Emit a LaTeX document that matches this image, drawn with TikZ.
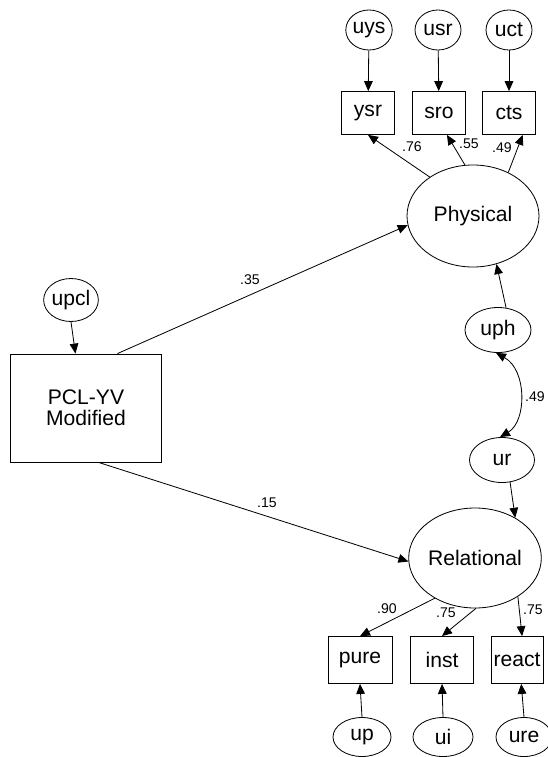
\documentclass[tikz,border=0pt]{standalone}
\usepackage{fontspec}
\setmainfont{Liberation Sans}
\usepackage{tikz}
\usetikzlibrary{shapes.geometric}
\usetikzlibrary{arrows.meta}

\begin{document}
\begin{tikzpicture}[x=0.03cm, y=-0.03cm,
  every node/.style={font=\fontsize{18}{18}\selectfont},
  lat/.style={draw, ellipse, inner sep=0pt, line width=0.7pt},
  err/.style={draw, ellipse, inner sep=0pt, line width=0.7pt},
  obs/.style={draw, rectangle, inner sep=0pt, line width=0.7pt},
  coef/.style={font=\fontsize{12}{12}\selectfont},
  path/.style={line width=0.7pt, -{Triangle[length=0.3cm, width=0.26cm]}}]
\useasboundingbox (0,0) rectangle (547,757);

% error terms, top
\node [err, minimum width=1.38cm, minimum height=1.2cm] (uys) at (369,30) {uys};
\node [err, minimum width=1.38cm, minimum height=1.2cm] (usr) at (438,30) {usr};
\node [err, minimum width=1.38cm, minimum height=1.2cm] (uct) at (509,30) {uct};

% indicators, physical
\node [obs, minimum width=1.59cm, minimum height=1.29cm] (ysr) at (368,113) {ysr};
\node [obs, minimum width=1.59cm, minimum height=1.29cm] (sro) at (439,113) {sro};
\node [obs, minimum width=1.59cm, minimum height=1.29cm] (cts) at (509,113) {cts};

% latent variables
\node [lat, minimum width=3.96cm, minimum height=3.06cm] (phys) at (473,216) {Physical};
\node [lat, minimum width=3.84cm, minimum height=3.0cm] (rel) at (475,558) {Relational};

% predictor
\node [err, minimum width=1.62cm, minimum height=1.29cm] (upcl) at (71,300) {upcl};
\node [obs, minimum width=4.53cm, minimum height=3.24cm, align=center] (pcl) at (86,408) {PCL-YV\\Modified};

% disturbances
\node [err, minimum width=1.98cm, minimum height=1.35cm] (uph) at (498,330) {uph};
\node [err, minimum width=1.95cm, minimum height=1.35cm] (ur) at (502,460) {ur};

% indicators, relational
\node [obs, minimum width=1.92cm, minimum height=1.41cm] (pure) at (360,660) {pure};
\node [obs, minimum width=1.89cm, minimum height=1.41cm] (inst) at (442,660) {inst};
\node [obs, minimum width=1.56cm, minimum height=1.41cm] (react) at (517,660) {react};

% error terms, bottom
\node [err, minimum width=1.74cm, minimum height=1.17cm] (up) at (362,737) {up};
\node [err, minimum width=1.8cm, minimum height=1.17cm] (ui) at (443,737) {ui};
\node [err, minimum width=1.68cm, minimum height=1.17cm] (ure) at (524,737) {ure};

% paths
\draw [path] (uys) -- (ysr);
\draw [path] (usr) -- (sro);
\draw [path] (uct) -- (cts);
\draw [path] (phys.138) -- (ysr.south);
\draw [path] (phys.99) -- (sro.-70);
\draw [path] (phys.51) -- (cts.-58);
\draw [path] (upcl.south) -- (pcl.101);
\draw [path] (pcl.60) -- (phys.188);
\draw [path] (pcl.-77.5) -- (rel.183);
\draw [path] (uph.70) -- (phys.-64);
\draw [path] (ur.-70) -- (rel.45);
\draw [line width=0.7pt, {Triangle[length=0.3cm, width=0.26cm]}-{Triangle[length=0.3cm, width=0.26cm]}]
  (uph.-95) .. controls (527,370) and (527,421) .. (ur.95);
\draw [path] (rel.225) -- (pure.north);
\draw [path] (rel.-89) -- (inst.north);
\draw [path] (rel.-42) -- (react.78);
\draw [path] (up.north) -- (pure.south);
\draw [path] (ui.north) -- (inst.south);
\draw [path] (ure.north) -- (react.-80);

% coefficients
\node [coef] (c76) at (412,147) {.76};
\node [coef] (c55) at (469,144) {.55};
\node [coef] (c49) at (502,148) {.49};
\node [coef] (c35) at (250,280) {.35};
\node [coef] (c15) at (267,503) {.15};
\node [coef] (r49) at (535,397) {.49};
\node [coef] (c90) at (387,609) {.90};
\node [coef] (c75a) at (446,613) {.75};
\node [coef] (c75b) at (533,610) {.75};

\end{tikzpicture}
\end{document}
